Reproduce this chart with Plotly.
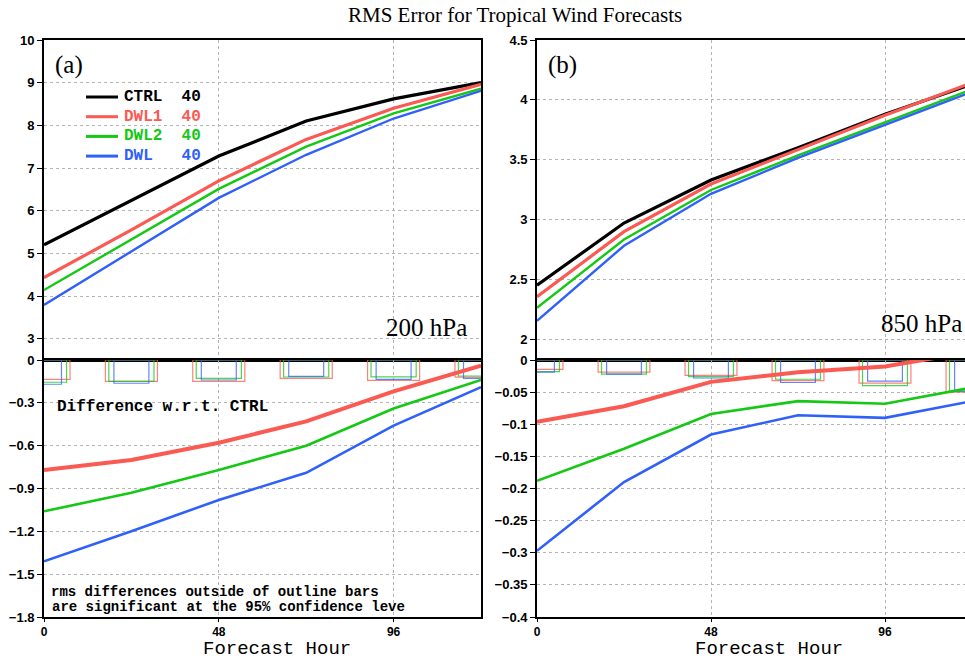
import plotly.graph_objects as go

# Forecast lead times (hours)
hours = [0, 24, 48, 72, 96, 120]

# RMS vector wind error, 200 hPa (m/s)
ctrl_200 = [5.20, 6.25, 7.28, 8.10, 8.62, 9.00]
dwl1_200 = [4.43, 5.55, 6.70, 7.67, 8.40, 8.96]
dwl2_200 = [4.14, 5.32, 6.51, 7.50, 8.28, 8.86]
dwl_200 = [3.79, 5.05, 6.30, 7.31, 8.16, 8.81]

# RMS vector wind error, 850 hPa (m/s)
ctrl_850 = [2.450, 2.970, 3.330, 3.600, 3.880, 4.130]
dwl1_850 = [2.354, 2.898, 3.296, 3.581, 3.870, 4.143]
dwl2_850 = [2.262, 2.832, 3.246, 3.536, 3.812, 4.087]
dwl_850 = [2.153, 2.780, 3.214, 3.514, 3.790, 4.066]

# 95% confidence half-widths of the differences (outline bars)
ci_dwl1_200 = [-0.135, -0.150, -0.150, -0.128, -0.143, -0.120]
ci_dwl2_200 = [-0.156, -0.150, -0.128, -0.119, -0.118, -0.112]
ci_dwl_200 = [-0.170, -0.163, -0.140, -0.114, -0.135, -0.128]
ci_dwl1_850 = [-0.0146, -0.019, -0.024, -0.032, -0.036, -0.050]
ci_dwl2_850 = [-0.018, -0.022, -0.026, -0.030, -0.040, -0.049]
ci_dwl_850 = [-0.019, -0.022, -0.028, -0.035, -0.033, -0.048]

# Tick labels
x_tickvals = [0, 48, 96]
y_top_200 = [3, 4, 5, 6, 7, 8, 9, 10]
y_bot_200 = [0, -0.3, -0.6, -0.9, -1.2, -1.5, -1.8]
y_top_850 = [2, 2.5, 3, 3.5, 4, 4.5]
y_bot_850 = [0, -0.05, -0.1, -0.15, -0.2, -0.25, -0.3, -0.35, -0.4]

# Legend entries
legend_labels = ["CTRL  40", "DWL1  40", "DWL2  40", "DWL   40"]

BLACK = "#000000"
RED = "#fa5a52"
GREEN = "#14c814"
BLUE = "#3060fa"

colors = [BLACK, RED, GREEN, BLUE]
widths_top = [3.2, 3.2, 2.4, 2.4]
widths_bot = [None, 4.0, 2.6, 2.6]
bar_widths = [None, 14.3, 12.4, 9.6]

W, H = 965, 659
fig = go.Figure()


def diff(a, b):
    return [round(x - y, 4) for x, y in zip(a, b)]


panels = [
    ("x", "y", "x2", "y2", [ctrl_200, dwl1_200, dwl2_200, dwl_200],
     [None, ci_dwl1_200, ci_dwl2_200, ci_dwl_200]),
    ("x3", "y3", "x4", "y4", [ctrl_850, dwl1_850, dwl2_850, dwl_850],
     [None, ci_dwl1_850, ci_dwl2_850, ci_dwl_850]),
]

for xt, yt, xb, yb, series, cis in panels:
    # significance outline bars
    for i in range(1, 4):
        fig.add_trace(go.Bar(
            x=hours, y=cis[i], xaxis=xb, yaxis=yb,
            width=[bar_widths[i]] * len(hours),
            marker=dict(color="rgba(0,0,0,0)",
                        line=dict(color=colors[i], width=1.2)),
            opacity=0.75, showlegend=False, hoverinfo="skip",
        ))
    # RMS error curves
    for i in range(4):
        fig.add_trace(go.Scatter(
            x=hours, y=series[i], xaxis=xt, yaxis=yt, mode="lines",
            line=dict(color=colors[i], width=widths_top[i]),
            showlegend=False,
        ))
    # differences relative to CTRL
    for i in (1, 2, 3):
        fig.add_trace(go.Scatter(
            x=hours, y=diff(series[i], series[0]), xaxis=xb, yaxis=yb,
            mode="lines", line=dict(color=colors[i], width=widths_bot[i]),
            showlegend=False,
        ))

xL = [44 / W, 481 / W]
xR = [537 / W, 1.0]
yT = [(H - 360) / H, (H - 40) / H]
yB = [(H - 617) / H, (H - 360) / H]

ytickfont = dict(family="Liberation Sans", size=13, color="black", weight="bold")
xtickfont = dict(family="Liberation Sans", size=12, color="black", weight="bold")
grid = dict(showgrid=True, gridcolor="#b4b4b4", griddash="dot", gridwidth=1)
line = dict(showline=True, linecolor="black", linewidth=1.8)


def xax(domain, anchor, labels, rng, mirror):
    return dict(domain=domain, anchor=anchor, range=rng, tickvals=x_tickvals,
                showticklabels=labels, ticks="outside" if labels else "",
                ticklen=3, tickcolor="black", tickfont=xtickfont,
                zeroline=False, mirror=mirror, automargin=False,
                **grid, **line)


def yax(domain, anchor, vals, rng, mirror):
    return dict(domain=domain, anchor=anchor, range=rng, tickvals=vals,
                ticktext=[f"{v:g}".replace("-", "\u2212") for v in vals],
                ticks="outside", ticklen=5, tickcolor="black",
                tickfont=ytickfont, zeroline=False, mirror=mirror,
                automargin=False, **grid, **line)


fig.update_layout(
    width=W, height=H,
    margin=dict(l=0, r=0, t=0, b=0, autoexpand=False),
    paper_bgcolor="white", plot_bgcolor="white",
    barmode="overlay", showlegend=False,
    xaxis=xax(xL, "y", False, [0, 120], True),
    yaxis=yax(yT, "x", y_top_200, [2.5, 10], True),
    xaxis2=xax(xL, "y2", True, [0, 120], True),
    yaxis2=yax(yB, "x2", y_bot_200, [-1.8, 0], True),
    xaxis3=xax(xR, "y3", False, [0, 118.07], True),
    yaxis3=yax(yT, "x3", y_top_850, [1.825, 4.5], False),
    xaxis4=xax(xR, "y4", True, [0, 118.07], True),
    yaxis4=yax(yB, "x4", y_bot_850, [-0.4, 0], False),
)

serif = "Liberation Serif"
mono = "Liberation Mono"


def note(text, x, y, size, family, xanchor="left", weight="normal",
         color="black"):
    fig.add_annotation(text=text, x=x / W, y=1 - y / H, xref="paper",
                       yref="paper", xanchor=xanchor, yanchor="middle",
                       showarrow=False,
                       font=dict(family=family, size=size, color=color,
                                 weight=weight))


# legend key: line sample plus coloured label
for i, label in enumerate(legend_labels):
    yk = 97 + i * 19.7
    fig.add_shape(type="line", xref="paper", yref="paper",
                  x0=86 / W, x1=118 / W, y0=1 - yk / H, y1=1 - yk / H,
                  line=dict(color=colors[i], width=3))
    note(label.replace(" ", "\u00a0"), 122, yk, 16, mono, weight="bold",
         color=colors[i])

note("RMS Error for Tropical Wind Forecasts", 515, 15, 21, serif, "center")
note("(a)", 53, 65, 25, serif)
note("(b)", 546, 65, 25, serif)
note("200 hPa", 469, 327, 25, serif, "right")
note("850 hPa", 964, 323, 25, serif, "right")
note("Difference w.r.t. CTRL", 55, 407, 16, mono, weight="bold")
note("rms differences outside of outline bars", 49, 592, 14, mono, weight="bold")
note("are significant at the 95% confidence leve", 50, 607, 14, mono, weight="bold")
note("Forecast Hour", 277, 649, 19, mono, "center")
note("Forecast Hour", 769, 649, 19, mono, "center")

fig.write_html("out.html")
